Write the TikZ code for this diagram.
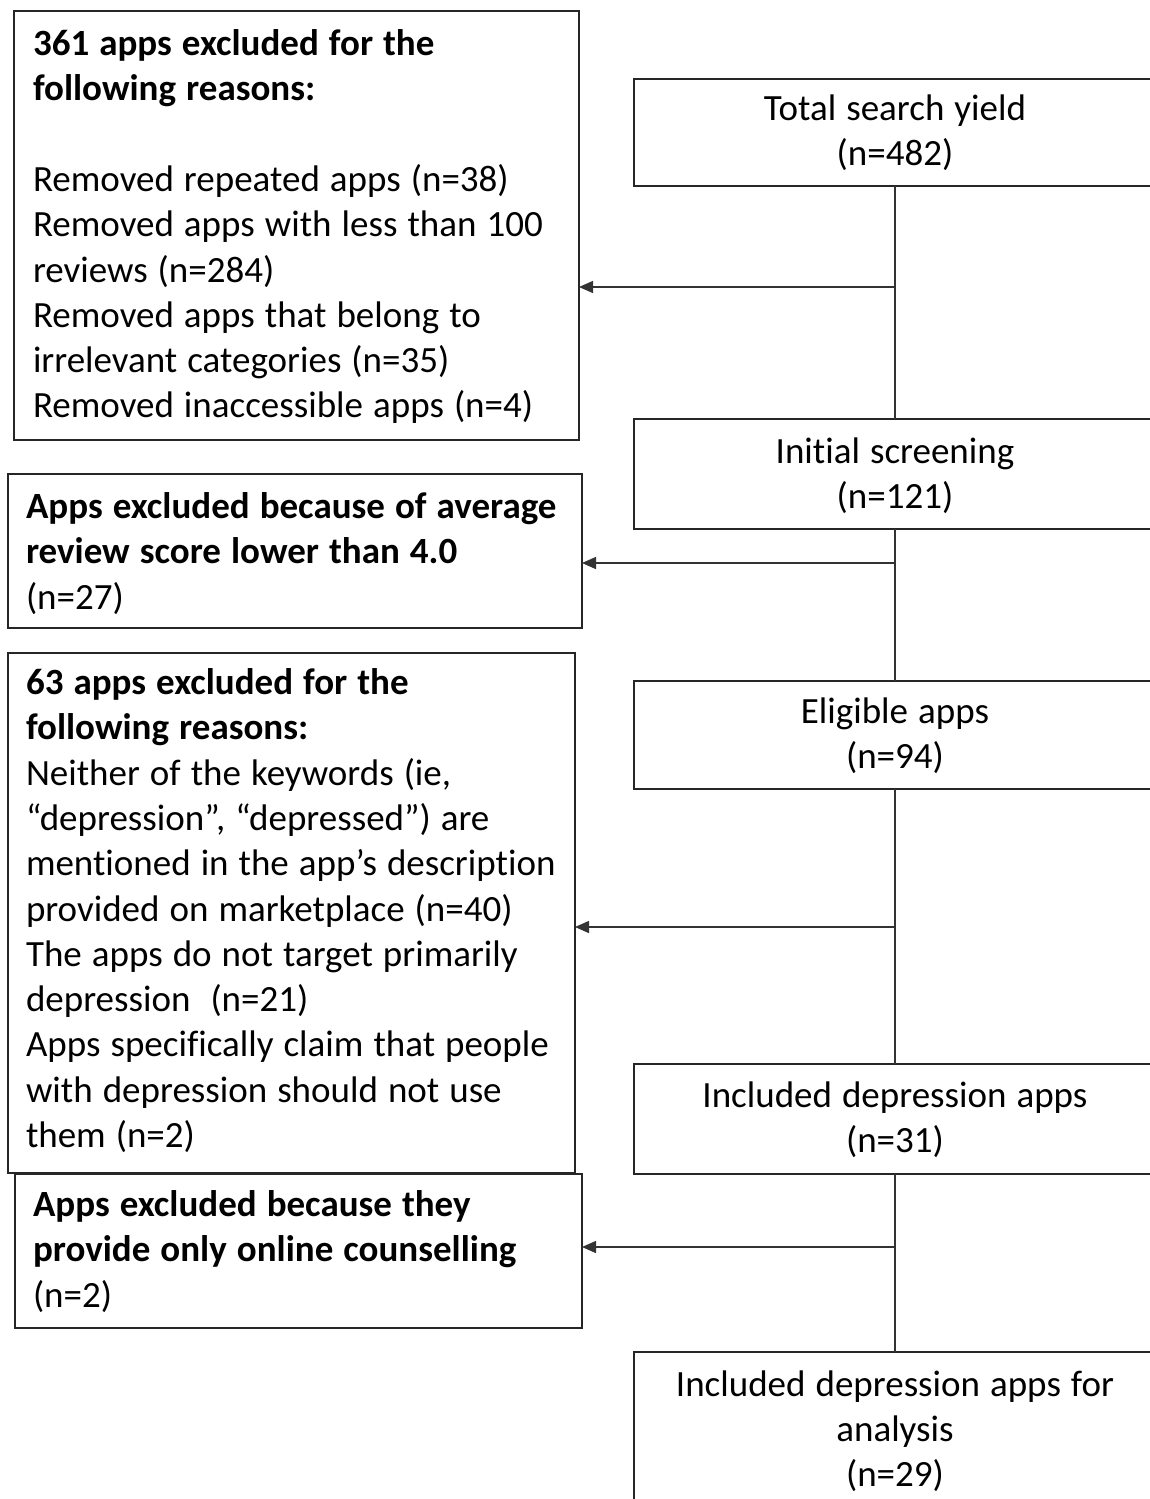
\documentclass[tikz,border=0pt]{standalone}
\usepackage{fontspec}
\setmainfont{Carlito}[WordSpace=1.2, Ligatures=NoCommon]
\usetikzlibrary{arrows.meta}
\begin{document}
\begin{tikzpicture}[x=1pt,y=-1pt,
  box/.style={draw=black!85, line width=1.6pt, rectangle, inner sep=0pt, outer sep=0pt, anchor=north west},
  lefttext/.style={anchor=base west, inner sep=0pt, outer sep=0pt},
  midtext/.style={anchor=base, inner sep=0pt, outer sep=0pt},
  link/.style={draw=black!80, line width=1.4pt},
  arr/.style={link, -{Triangle[length=14pt,width=12pt]}}]
\useasboundingbox (0,0) rectangle (1150,1499);
\clip (0,0) rectangle (1150,1499);
\newcommand{\bodyfont}{\fontsize{37}{45.3}\selectfont}
\newcommand{\lbox}[2]{\parbox[t]{#1pt}{\bodyfont\raggedright #2\par}}
\newcommand{\cbox}[1]{\parbox[t]{520pt}{\bodyfont\centering #1\par}}
% right column boxes
\node[box, minimum width=522pt, minimum height=107pt] (T) at (634,79) {};
\node[box, minimum width=522pt, minimum height=110pt] (I) at (634,419) {};
\node[box, minimum width=522pt, minimum height=108pt] (El) at (634,681) {};
\node[box, minimum width=522pt, minimum height=110pt] (Inc) at (634,1064) {};
\node[box, minimum width=522pt, minimum height=200pt] (F) at (634,1352) {};
% left column boxes
\node[box, minimum width=565pt, minimum height=429pt] (A) at (14,11) {};
\node[box, minimum width=574pt, minimum height=154pt] (B) at (8,474) {};
\node[box, minimum width=567pt, minimum height=520pt] (C) at (8,653) {};
\node[box, minimum width=567pt, minimum height=154pt] (E) at (15,1174) {};
% texts
\node[midtext] (tT) at (895,120) {\cbox{Total search yield\\(n=482)}};
\node[midtext] (tI) at (895,463) {\cbox{Initial screening\\(n=121)}};
\node[midtext] (tEl) at (895,723) {\cbox{Eligible apps\\(n=94)}};
\node[midtext] (tInc) at (895,1107) {\cbox{Included depression apps\\(n=31)}};
\node[midtext] (tF) at (895,1396) {\cbox{Included depression apps for\\analysis\\(n=29)}};
\node[lefttext] (tA) at (33,55.5) {\lbox{540}{\textbf{361 apps excluded for the}\\\textbf{following reasons:}\\\mbox{}\\Removed repeated apps (n=38)\\Removed apps with less than 100\\reviews (n=284)\\Removed apps that belong to\\irrelevant categories (n=35)\\Removed inaccessible apps (n=4)}};
\node[lefttext] (tB) at (26,518.5) {\lbox{555}{\textbf{Apps excluded because of average}\\\textbf{review score lower than 4.0}\\(n=27)}};
\node[lefttext] (tC) at (26,694.5) {\lbox{548}{\textbf{63 apps excluded for the}\\\textbf{following reasons:}\\Neither of the keywords (ie,\\“depression”, “depressed”) are\\mentioned in the app’s description\\provided on marketplace (n=40)\\The apps do not target primarily\\depression~~(n=21)\\Apps specifically claim that people\\with depression should not use\\them (n=2)}};
\node[lefttext] (tE) at (33,1216.5) {\lbox{548}{\textbf{Apps excluded because they}\\\textbf{provide only online counselling}\\(n=2)}};
% vertical connectors
\draw[link] (T.south) -- (I.north);
\draw[link] (I.south) -- (El.north);
\draw[link] (El.south) -- (Inc.north);
\draw[link] (Inc.south) -- (F.north);
% branch points
\coordinate (jA) at (895,287);
\coordinate (jB) at (895,563);
\coordinate (jC) at (895,927);
\coordinate (jE) at (895,1247);
\draw[arr] (jA) -- (jA -| A.east);
\draw[arr] (jB) -- (jB -| B.east);
\draw[arr] (jC) -- (jC -| C.east);
\draw[arr] (jE) -- (jE -| E.east);
\end{tikzpicture}
\end{document}
